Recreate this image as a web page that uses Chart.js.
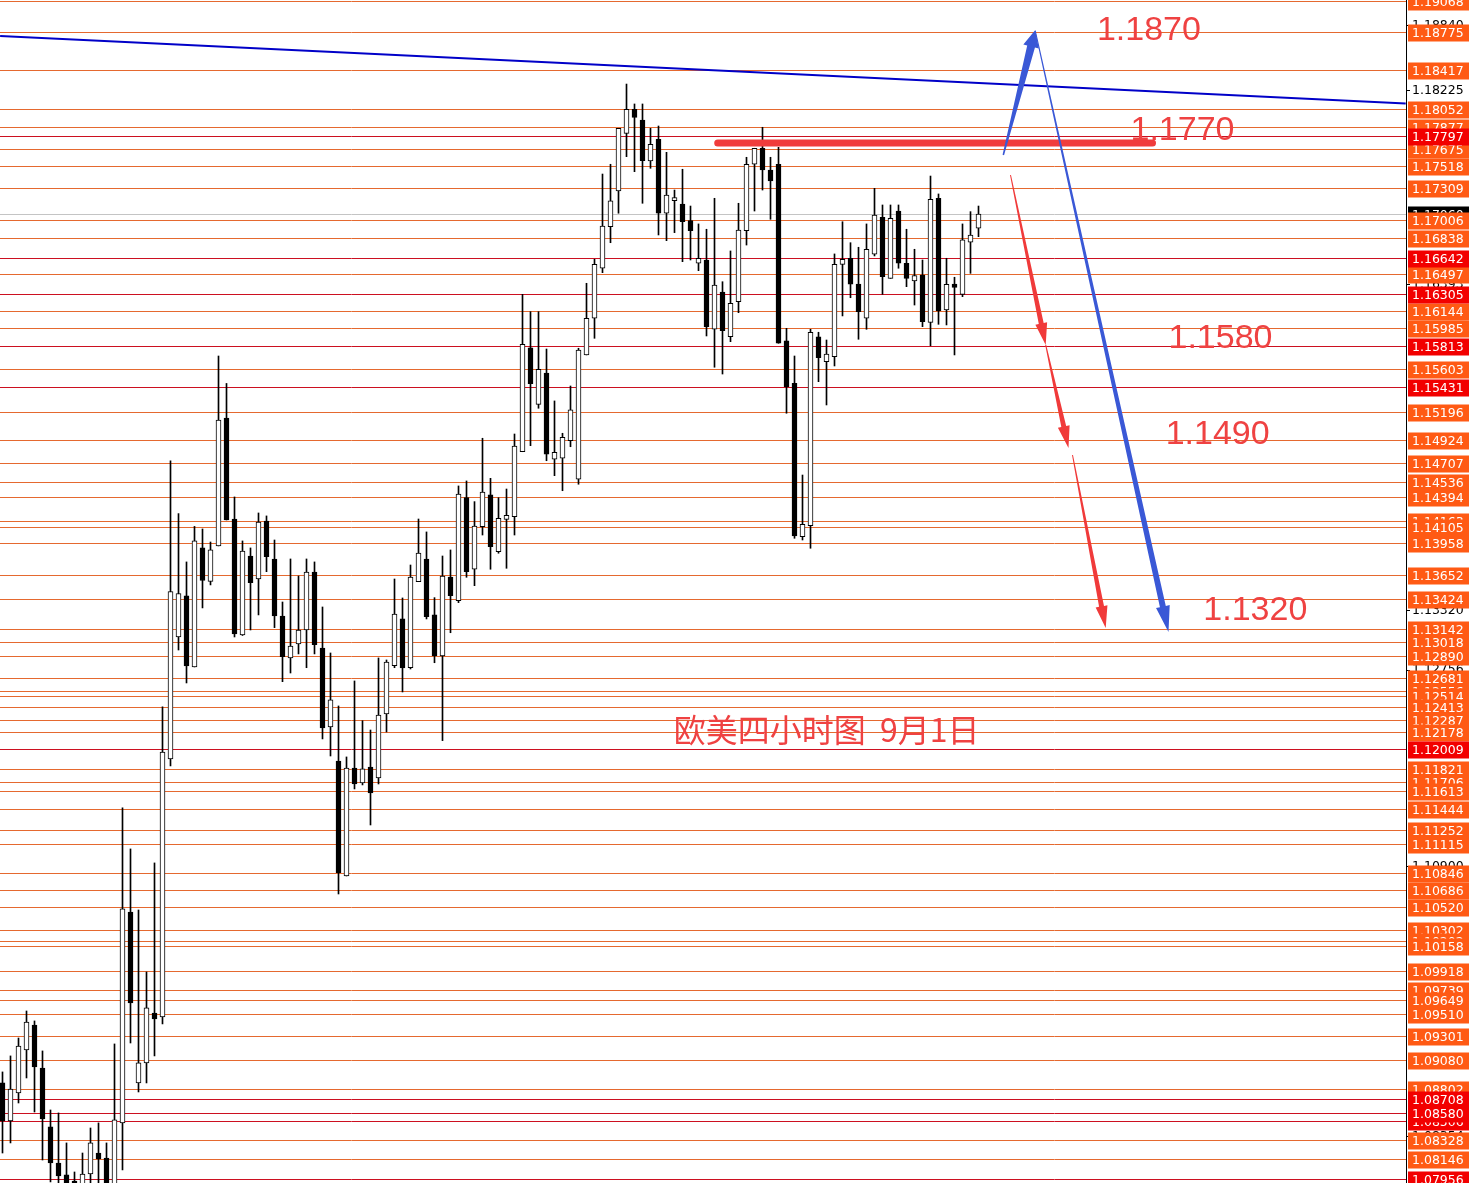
<!DOCTYPE html>
<html>
<head>
<meta charset="utf-8">
<script src="https://cdn.jsdelivr.net/npm/chart.js@4.4.0/dist/chart.umd.min.js"></script>
<style>
html, body { margin: 0; padding: 0; background: #fff; }
#wrap { position: relative; width: 1469px; height: 1183px; }
</style>
</head>
<body>
<div id="wrap"><canvas id="chart"></canvas></div>
<script>
// 欧美 4小时 K线 (开, 高, 低, 收)
const opens = [1.08862,1.08503,1.08768,1.09173,1.09409,1.09003,1.08447,1.08107,1.07994,1.07937,
  1.07852,1.08003,1.08201,1.08154,1.07900,1.08485,1.10475,1.08862,1.09051,1.09522,
  1.09485,1.11919,1.13070,1.13457,1.12787,1.13910,1.13594,1.13929,1.15136,1.14183,
  1.13089,1.13834,1.13617,1.14164,1.13806,1.13268,1.12872,1.13004,1.13136,1.13683,
  1.12966,1.12221,1.11900,1.10815,1.11834,1.11692,1.11843,1.11740,1.12343,1.12799,
  1.13240,1.12780,1.13592,1.13806,1.13278,1.12891,1.13636,1.13412,1.14384,1.13709,
  1.14111,1.14410,1.13875,1.14180,1.14205,1.14818,1.15797,1.15265,1.15561,1.14747,
  1.14756,1.14922,1.14558,1.15731,1.16077,1.16549,1.16941,1.17278,1.17822,1.18049,
  1.17948,1.17561,1.17766,1.17068,1.17186,1.17155,1.16998,1.16596,1.16627,1.15973,
  1.16325,1.15903,1.16234,1.16903,1.17530,1.17681,1.17476,1.17530,1.15863,1.15464,
  1.14016,1.14120,1.15903,1.15667,1.15715,1.16586,1.16643,1.16400,1.16077,1.16681,
  1.17030,1.16454,1.17089,1.16596,1.16429,1.16485,1.16039,1.17209,1.16155,1.16400,
  1.16303,1.16794,1.16926];
const highs = [1.08966,1.09117,1.09286,1.09541,1.09447,1.09164,1.08607,1.08579,1.08296,1.08022,
  1.08201,1.08437,1.08485,1.08296,1.09230,1.11457,1.11070,1.10494,1.09909,1.10938,
  1.12410,1.14731,1.14234,1.13778,1.14113,1.14089,1.13966,1.15721,1.15462,1.14391,
  1.13976,1.13910,1.14240,1.14212,1.13985,1.13400,1.13806,1.13645,1.13806,1.13778,
  1.13353,1.12919,1.12419,1.11938,1.12655,1.12280,1.12192,1.12872,1.12853,1.13617,
  1.13438,1.13749,1.14183,1.14061,1.13441,1.13834,1.13891,1.14495,1.14542,1.14347,
  1.14945,1.14567,1.14384,1.14466,1.14985,1.16303,1.16139,1.16139,1.15787,1.15297,
  1.14992,1.15438,1.15794,1.16407,1.16634,1.17438,1.17530,1.17869,1.18287,1.18099,
  1.18099,1.17869,1.17891,1.17643,1.17287,1.17483,1.17136,1.16967,1.16917,1.17209,
  1.16422,1.16712,1.17162,1.17596,1.17681,1.17879,1.17596,1.17690,1.15982,1.15721,
  1.14598,1.15973,1.15945,1.15872,1.16684,1.16988,1.16790,1.16747,1.16967,1.17303,
  1.17146,1.17146,1.17146,1.16917,1.16728,1.16627,1.17419,1.17250,1.16643,1.16464,
  1.16967,1.17083,1.17136];
const lows = [1.08201,1.08296,1.08673,1.08909,1.08588,1.08135,1.07928,1.07890,1.07834,1.07805,
  1.07805,1.07918,1.07918,1.07852,1.07852,1.08041,1.09239,1.08777,1.08862,1.09117,
  1.09419,1.11853,1.12947,1.12636,1.12787,1.13344,1.13561,1.13929,1.14174,1.13070,
  1.13084,1.13136,1.13278,1.13686,1.13158,1.12648,1.12730,1.12910,1.12780,1.12910,
  1.12108,1.11947,1.10645,1.10815,1.11636,1.11674,1.11296,1.11683,1.12174,1.12780,
  1.12551,1.12768,1.13592,1.13240,1.12827,1.12092,1.13110,1.13394,1.13633,1.13554,
  1.14032,1.13709,1.13860,1.13718,1.14032,1.14818,1.14875,1.15228,1.14733,1.14592,
  1.14450,1.14865,1.14511,1.15731,1.15888,1.16507,1.16790,1.17068,1.17602,1.17460,
  1.17162,1.17492,1.16863,1.16809,1.16885,1.16611,1.16627,1.16526,1.15910,1.15615,
  1.15551,1.15856,1.16130,1.16768,1.17089,1.17287,1.17011,1.15841,1.15181,1.14001,
  1.13985,1.13907,1.15479,1.15259,1.15627,1.16099,1.16271,1.15879,1.15973,1.16665,
  1.16303,1.16454,1.16549,1.16375,1.16202,1.15998,1.15818,1.16020,1.16014,1.15731,
  1.16281,1.16501,1.16847];
const closes = [1.08503,1.08805,1.09211,1.09437,1.09013,1.08522,1.08107,1.07984,1.07890,1.07852,
  1.08003,1.08296,1.08145,1.07918,1.08513,1.10504,1.09617,1.09051,1.09570,1.09466,
  1.11985,1.13499,1.13480,1.12796,1.13976,1.13603,1.13891,1.15117,1.14174,1.13098,
  1.13881,1.13582,1.14155,1.13828,1.13268,1.12884,1.12985,1.13136,1.13683,1.12997,
  1.12211,1.12476,1.10846,1.11834,1.11683,1.11825,1.11598,1.12334,1.12834,1.13287,
  1.12777,1.13636,1.13862,1.13261,1.12893,1.13645,1.13460,1.14419,1.13686,1.14117,
  1.14438,1.13922,1.14190,1.14218,1.14872,1.15832,1.15460,1.15596,1.14794,1.14813,
  1.14954,1.15212,1.15778,1.16077,1.16586,1.16948,1.17184,1.17869,1.18049,1.17973,
  1.17564,1.17719,1.17068,1.17240,1.17215,1.16988,1.16903,1.16643,1.15998,1.16391,
  1.15960,1.16218,1.16910,1.17530,1.17681,1.17476,1.17372,1.15841,1.15431,1.14023,
  1.14133,1.15945,1.15705,1.15740,1.16586,1.16634,1.16398,1.16139,1.16728,1.17051,
  1.16469,1.17020,1.16596,1.16454,1.16479,1.16045,1.17200,1.16149,1.16398,1.16369,
  1.16816,1.16863,1.17061];

// 水平线价位
const orangeLevels = [1.19068,1.18775,1.18417,1.18052,1.17877,1.17675,1.17518,1.17309,1.17006,1.16838,
  1.16497,1.16144,1.15985,1.15603,1.15196,1.14924,1.14707,1.14536,1.14394,1.14163,
  1.14105,1.13958,1.13652,1.13424,1.13142,1.13018,1.12890,1.12681,1.12556,1.12514,
  1.12413,1.12287,1.12178,1.11821,1.11706,1.11613,1.11444,1.11252,1.11115,1.10846,
  1.10686,1.10520,1.10302,1.10202,1.10158,1.09918,1.09739,1.09649,1.09510,1.09301,
  1.09080,1.08802,1.08328,1.08146];
const redLevels = [1.17797,1.16642,1.16305,1.15813,1.15431,1.12009,1.08708,1.08580,1.08506,1.07956];
const axisTicks = [1.18840,1.18225,1.16393,1.13320,1.12756,1.10900,1.08354];
const lastPrice = 1.17060;
const priceMax = 1.19080;
const priceMin = 1.07918;

// 趋势线 / 阻力线 (K线序号, 价格)
const trendLine = [[-0.3, 1.18740], [175.4, 1.18104]];
const resistLine = [[89.4, 1.17731], [143.75, 1.17731]];

// 箭头: 起点序号, 起点价格, 终点序号, 终点价格
const blueArrows = [[125.1, 1.17618, 129.1, 1.18797], [129.1, 1.18788, 145.75, 1.13117]];
const redArrows = [[126.0, 1.17429, 130.4, 1.15825], [130.4, 1.15825, 133.25, 1.14853], [133.75, 1.14787, 137.9, 1.13155]];

// 目标位文字
const targetLabels = ['1.1870', '1.1770', '1.1580', '1.1490', '1.1320'];
const targetIdx = [136.8, 141.0, 145.75, 145.4, 150.1];
const targetPrice = [1.18816, 1.17872, 1.15910, 1.15004, 1.13344];
const titleText = '欧美四小时图  9月1日';
const titleIdx = 83.9;
const titlePrice = 1.12192;

const idx = opens.map((_, i) => i);
const bodyColors = idx.map(i => closes[i] >= opens[i] ? '#ffffff' : '#000000');

function drawArrow(ctx, x0, y0, x1, y1, w0, w1, headLen, headW, color) {
    const dx = x1 - x0, dy = y1 - y0;
    const len = Math.hypot(dx, dy);
    const ux = dx / len, uy = dy / len;
    const nx = -uy, ny = ux;
    const bx = x1 - ux * headLen, by = y1 - uy * headLen;
    ctx.fillStyle = color;
    ctx.beginPath();
    ctx.moveTo(x0 + nx * w0 / 2, y0 + ny * w0 / 2);
    ctx.lineTo(bx + nx * w1 / 2, by + ny * w1 / 2);
    ctx.lineTo(bx + nx * headW / 2, by + ny * headW / 2);
    ctx.lineTo(x1, y1);
    ctx.lineTo(bx - nx * headW / 2, by - ny * headW / 2);
    ctx.lineTo(bx - nx * w1 / 2, by - ny * w1 / 2);
    ctx.lineTo(x0 - nx * w0 / 2, y0 - ny * w0 / 2);
    ctx.closePath();
    ctx.fill();
}

const overlayPlugin = {
    id: 'overlay',
    beforeDatasetsDraw(chart) {
        const { ctx, chartArea: a, scales: { y } } = chart;
        ctx.save();
        ctx.lineWidth = 1;
        const drawLevel = (v, color) => {
            const py = Math.round(y.getPixelForValue(v)) + 0.5;
            ctx.strokeStyle = color;
            ctx.beginPath();
            ctx.moveTo(a.left, py);
            ctx.lineTo(a.right, py);
            ctx.stroke();
        };
        drawLevel(lastPrice, '#c4c4c4');
        orangeLevels.forEach(v => drawLevel(v, '#e5692f'));
        redLevels.forEach(v => drawLevel(v, '#cc1020'));
        ctx.restore();
    },
    afterDatasetsDraw(chart) {
        const { ctx, scales: { x, y } } = chart;
        ctx.save();
        // 箭头
        blueArrows.forEach((p, k) => {
            const s = k === 0 ? [1.5, 8, 17, 16] : [1, 6, 26, 14];
            drawArrow(ctx, x.getPixelForValue(p[0]), y.getPixelForValue(p[1]),
                x.getPixelForValue(p[2]), y.getPixelForValue(p[3]), s[0], s[1], s[2], s[3], '#3a58d6');
        });
        redArrows.forEach(p => {
            drawArrow(ctx, x.getPixelForValue(p[0]), y.getPixelForValue(p[1]),
                x.getPixelForValue(p[2]), y.getPixelForValue(p[3]), 1, 5, 22, 12, '#f03a3a');
        });
        // 文字
        ctx.fillStyle = '#ef4242';
        ctx.textAlign = 'left';
        ctx.textBaseline = 'alphabetic';
        ctx.font = '34px "Liberation Sans", Arial, sans-serif';
        targetLabels.forEach((t, k) => {
            ctx.fillText(t, x.getPixelForValue(targetIdx[k]), y.getPixelForValue(targetPrice[k]) + 12);
        });
        ctx.textBaseline = 'middle';
        ctx.font = '32px "Noto Sans CJK SC", sans-serif';
        ctx.fillText(titleText, x.getPixelForValue(titleIdx), y.getPixelForValue(titlePrice));
        ctx.restore();
    },
    afterDraw(chart) {
        const { ctx, scales: { y } } = chart;
        const left = y.left + 2;
        const w = chart.width - left;
        ctx.save();
        ctx.font = '12.5px "DejaVu Sans", sans-serif';
        ctx.textBaseline = 'middle';
        ctx.textAlign = 'left';
        const box = (v, bg) => {
            const py = Math.round(y.getPixelForValue(v)) + 1;
            ctx.fillStyle = bg;
            ctx.fillRect(left, py - 8.5, w, 17);
            ctx.fillStyle = '#ffffff';
            ctx.fillText(v.toFixed(5), left + 4, py + 0.5);
        };
        box(lastPrice, '#000000');
        orangeLevels.slice().sort((a, b) => b - a).forEach(v => box(v, '#ff5a14'));
        redLevels.slice().sort((a, b) => a - b).forEach(v => box(v, '#f20000'));
        ctx.restore();
    }
};

const ctx = document.getElementById('chart');
new Chart(ctx, {
    type: 'bar',
    data: {
        datasets: [
            {
                type: 'line',
                data: trendLine.map(p => ({ x: p[0], y: p[1] })),
                borderColor: '#0000c8',
                borderWidth: 2,
                pointRadius: 0
            },
            {
                type: 'line',
                data: resistLine.map(p => ({ x: p[0], y: p[1] })),
                borderColor: '#f03c3c',
                borderWidth: 7,
                borderCapStyle: 'round',
                pointRadius: 0
            },
            {
                data: idx.map(i => ({ x: i, y: [Math.min(opens[i], closes[i]), Math.max(opens[i], closes[i])] })),
                backgroundColor: bodyColors,
                borderColor: '#000000',
                borderWidth: 1,
                borderSkipped: false,
                barThickness: 5,
                minBarLength: 1,
                grouped: false
            },
            {
                data: idx.map(i => ({ x: i, y: [lows[i], highs[i]] })),
                backgroundColor: '#000000',
                borderWidth: 0,
                barThickness: 1,
                grouped: false
            }
        ]
    },
    options: {
        animation: false,
        responsive: true,
        maintainAspectRatio: false,
        layout: { padding: 0 },
        plugins: { legend: { display: false }, tooltip: { enabled: false } },
        scales: {
            x: {
                type: 'linear',
                min: -0.3125,
                max: 175.4375,
                offset: false,
                display: false
            },
            y: {
                position: 'right',
                min: priceMin,
                max: priceMax,
                afterBuildTicks: (scale) => { scale.ticks = axisTicks.map(v => ({ value: v })); },
                afterFit: (scale) => { scale.width = 63; scale.paddingTop = 0; scale.paddingBottom = 0; },
                ticks: {
                    autoSkip: false,
                    padding: 2,
                    color: '#000000',
                    font: { family: '"DejaVu Sans", sans-serif', size: 12.5 },
                    callback: v => Number(v).toFixed(5)
                },
                grid: { drawOnChartArea: false, drawTicks: true, tickLength: 4, color: '#000000' },
                border: { display: true, color: '#000000', width: 1 }
            }
        }
    },
    plugins: [overlayPlugin]
});
</script>
</body>
</html>
